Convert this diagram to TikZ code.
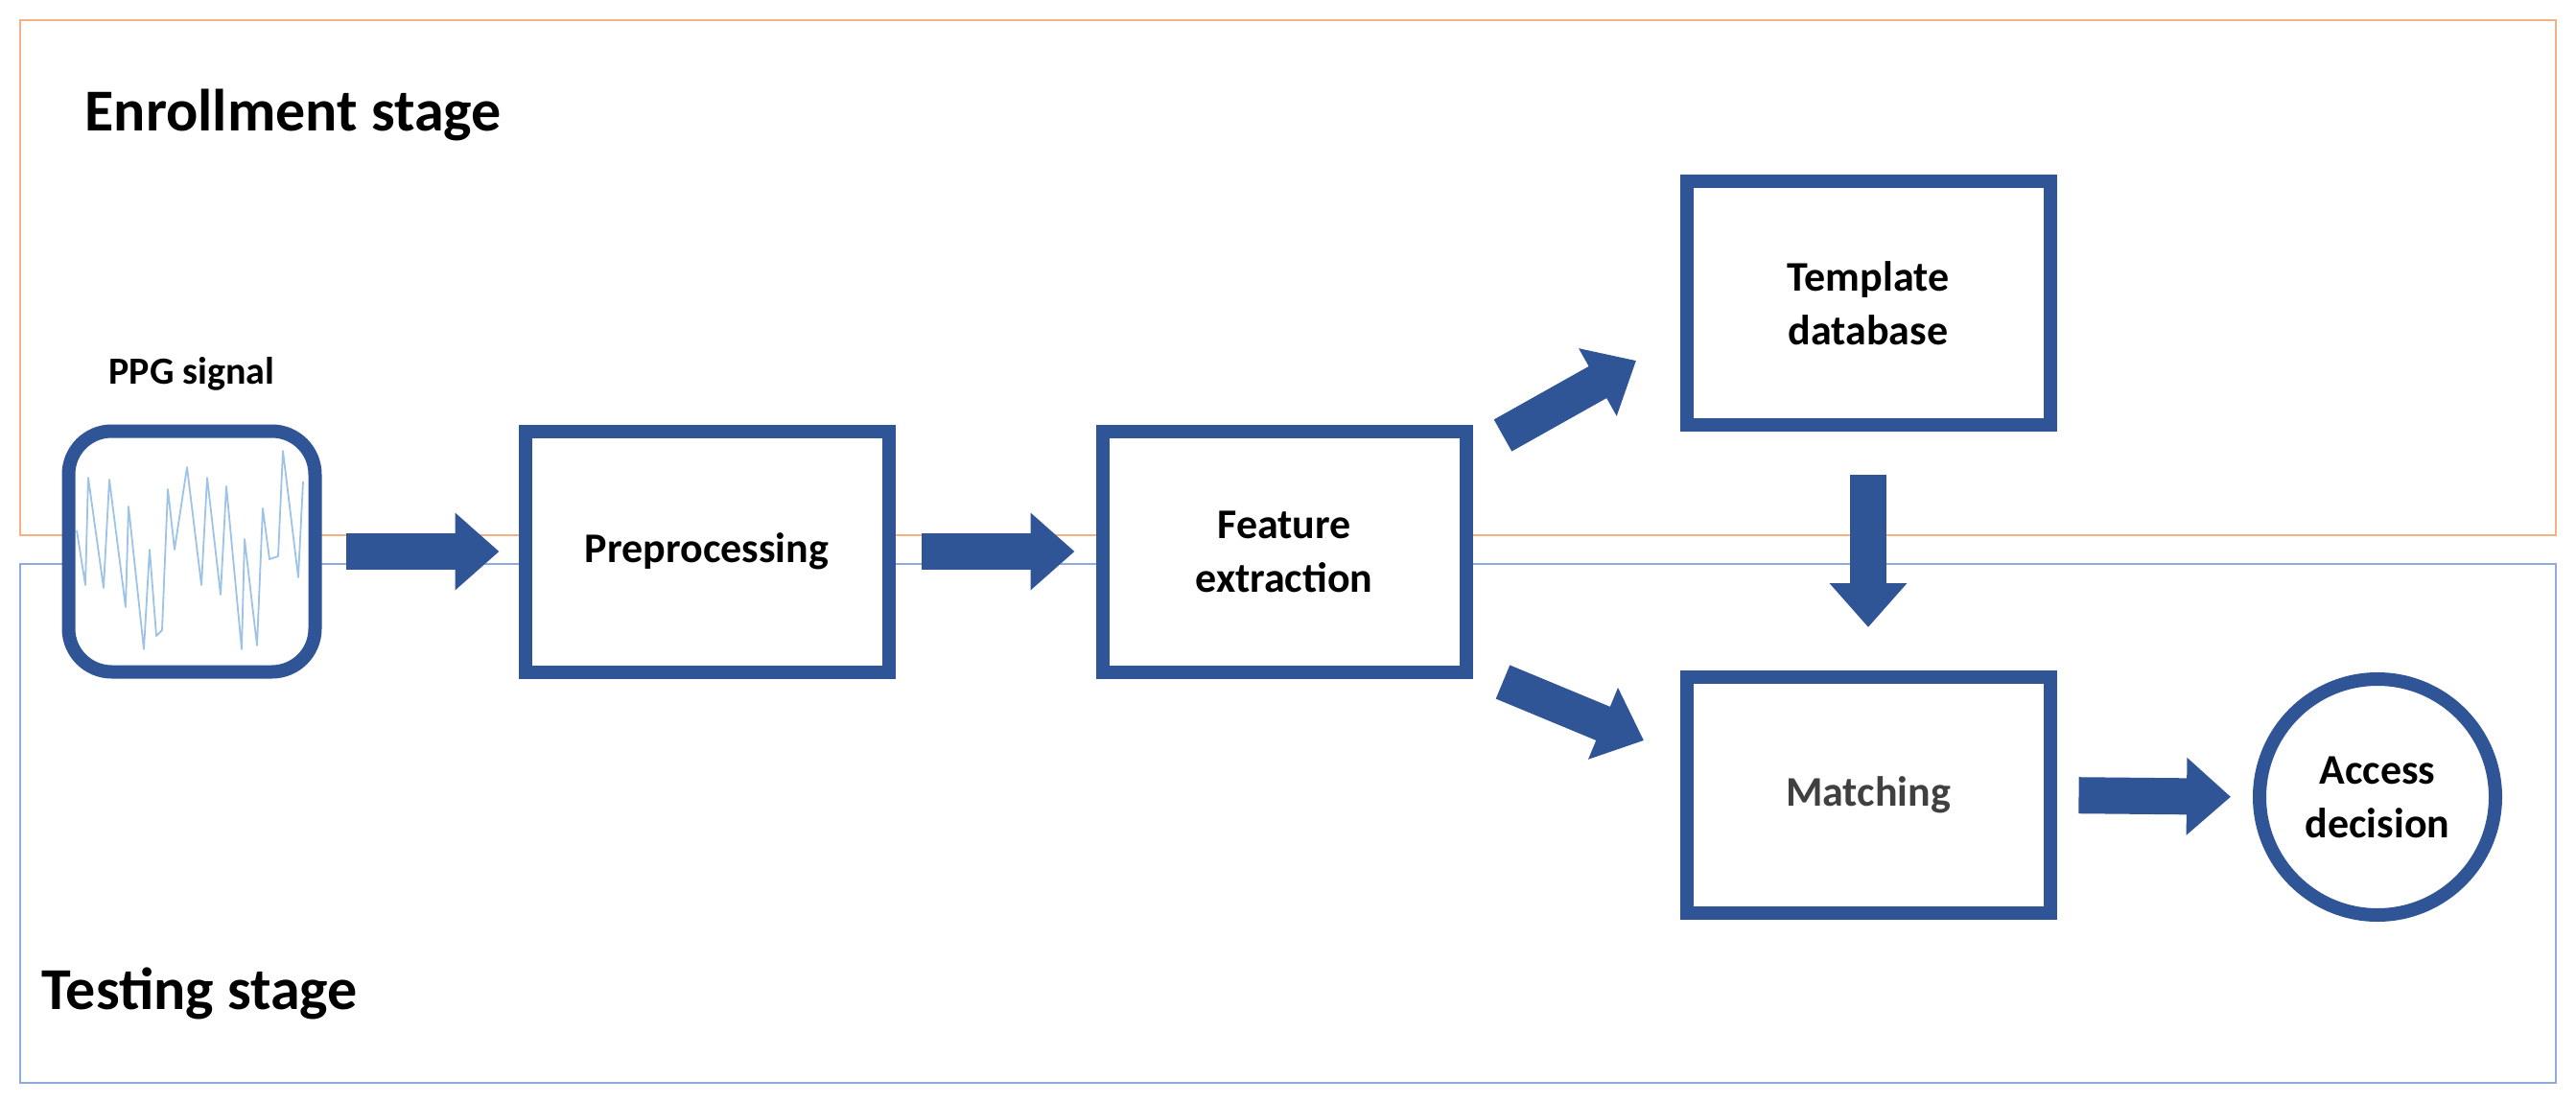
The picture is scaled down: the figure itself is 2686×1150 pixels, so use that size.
\documentclass[tikz,border=0pt]{standalone}
\usepackage{fontspec}
\setmainfont{Carlito}
\usetikzlibrary{arrows.meta}
\definecolor{dblue}{HTML}{2F5597}
\definecolor{lorange}{HTML}{F4B183}
\definecolor{lblue}{HTML}{8FAADC}
\definecolor{sig}{HTML}{9DC3E6}
\begin{document}
\begin{tikzpicture}[x=1pt,y=-1pt,
  box/.style={draw=dblue,line width=14pt,fill=white,minimum width=379pt,minimum height=251pt,font=\fontsize{44}{50}\selectfont\bfseries,align=center,inner sep=0pt},
  blk/.style={draw=dblue,line width=38pt,-{Triangle[length=46pt,width=78pt]}},
  stage/.style={font=\fontsize{62}{70}\selectfont\bfseries,anchor=west}]
\useasboundingbox (0,0) rectangle (2686,1150);
\draw[lorange,line width=2.5pt] (21,21) rectangle (2665,558);
\draw[lblue,line width=2.5pt] (21,588) rectangle (2665,1129);
\node[stage] (enr) at (85,120) {Enrollment stage};
\node[stage] (tst) at (40,1036) {Testing stage};
\node[font=\fontsize{40}{46}\selectfont\bfseries] (ppgl) at (200,390) {PPG signal};
\node[box,minimum width=257pt,minimum height=251pt,rounded corners=45pt] (ppg) at (200,575) {};
\draw[sig,line width=1.8pt,line join=round] (80,553)--(89,610)--(92,498)--(108,613)--(114,500)--(131,633)--(134,528)--(150,677)--(156,573)--(163,663)--(169,657)--(175,510)--(182,573)--(195,487)--(210,610)--(216,498)--(230,620)--(236,507)--(252,677)--(255,562)--(268,673)--(274,530)--(281,583)--(290,580)--(295,470)--(311,602)--(316,502);
\node[box] (pre) at (737,575) {Preprocessing};
\node[box] (fe) at (1339,575) {Feature\\[6pt]extraction};
\node[box,minimum height=253pt] (tpl) at (1948,316) {Template\\[6pt]database};
\node[box,minimum height=246pt,text=black!75] (mat) at (1948,829) {Matching};
\node[box,circle,minimum width=0pt,minimum height=0pt,minimum size=246pt] (acc) at (2479,831) {Access\\[6pt]decision};
\draw[blk,shorten <=25pt,shorten >=20pt] (ppg.east) -- (pre.west);
\draw[blk,shorten <=27pt,shorten >=22pt] (pre.east) -- (fe.west);
\coordinate (u1) at (1567,454); \coordinate (u2) at (1706,376);
\coordinate (l1) at (1567,711); \coordinate (l2) at (1714,772);
\draw[blk] (u1) -- (u2);
\draw[blk] (l1) -- (l2);
\draw[blk,shorten <=45pt,shorten >=45pt] (tpl.south) -- (mat.north);
\draw[blk,shorten <=23pt,shorten >=23pt] (mat.east) -- (acc.west);
\end{tikzpicture}
\end{document}
